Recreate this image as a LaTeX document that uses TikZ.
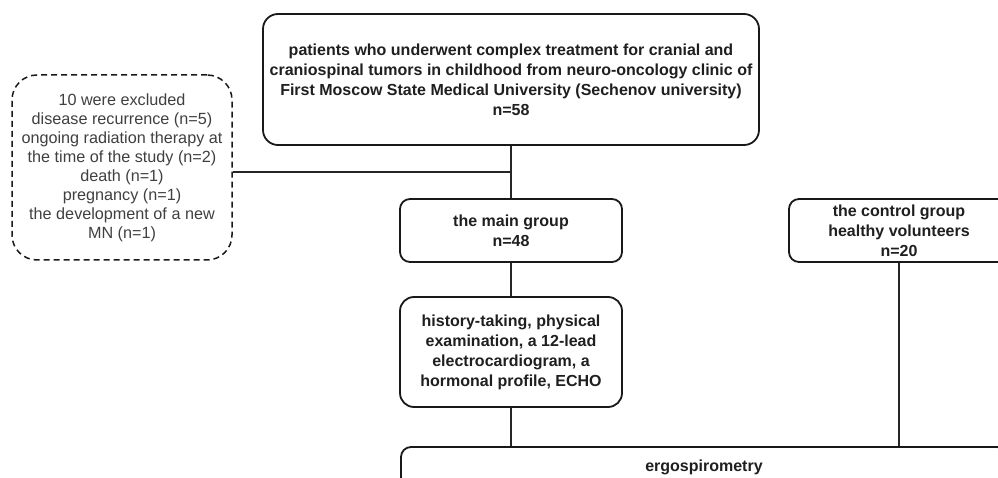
\documentclass[tikz,border=0pt]{standalone}
\usepackage{fontspec}
\setmainfont{Liberation Sans}
\begin{document}
\begin{tikzpicture}[x=1pt,y=-1pt,
  box/.style={draw=black!90,line width=1.8pt,rounded corners=10pt,align=center,
    font=\fontsize{16}{20}\selectfont\bfseries,text=black!88,inner sep=0pt},
  dbox/.style={draw=black!90,line width=1.5pt,dash pattern=on 6pt off 4pt,rounded corners=25pt,
    align=center,font=\fontsize{16.2}{19}\selectfont,text=black!75,inner sep=0pt},
  conn/.style={draw=black!85,line width=1.2pt}]
\useasboundingbox (0,0) rectangle (998,478);
\clip (0,0) rectangle (998,478);
\fill[white] (0,0) rectangle (998,478);
\node[box,rounded corners=15pt,minimum width=496pt,minimum height=131pt] (top) at (511,79.5)
  {patients who underwent complex treatment for cranial and\\
   craniospinal tumors in childhood from neuro-oncology clinic of\\
   First Moscow State Medical University (Sechenov university)\\
   n=58};
\node[dbox,minimum width=220pt,minimum height=185pt] (ex) at (122,167.5)
  {10 were excluded\\ disease recurrence (n=5)\\ ongoing radiation therapy at\\
   the time of the study (n=2)\\ death (n=1)\\ pregnancy (n=1)\\
   the development of a new\\ MN (n=1)};
\node[box,minimum width=222pt,minimum height=63pt] (main) at (511,230.5)
  {the main group\\ n=48};
\node[box,minimum width=220pt,minimum height=63pt] (ctrl) at (899,230.5)
  {the control group\\ healthy volunteers\\ n=20};
\node[box,minimum width=222pt,minimum height=110pt,rounded corners=14pt] (hist) at (511,352)
  {history-taking, physical\\ examination, a 12-lead\\ electrocardiogram, a\\ hormonal profile, ECHO};
\node[box,minimum width=606pt,minimum height=40pt] (ergo) at (704,467)
  {ergospirometry};
\coordinate (j) at (511,172);
\draw[conn] (top.south) -- (main.north);
\draw[conn] (j) -- (j -| ex.east);
\draw[conn] (main.south) -- (hist.north);
\draw[conn] (hist.south) -- (hist.south |- ergo.north);
\draw[conn] (ctrl.south) -- (ctrl.south |- ergo.north);
\end{tikzpicture}
\end{document}
